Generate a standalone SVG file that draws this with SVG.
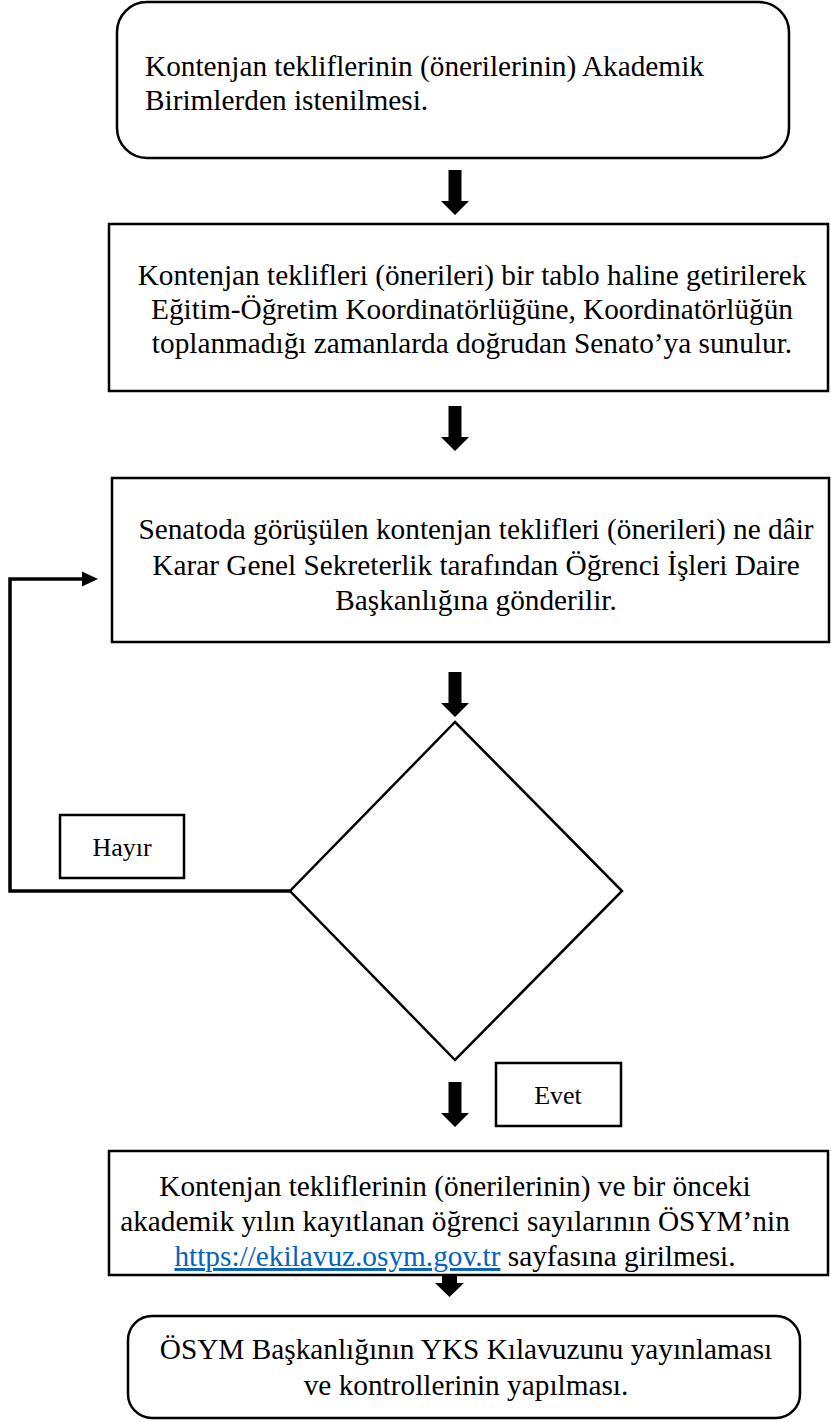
<svg xmlns="http://www.w3.org/2000/svg" xmlns:xlink="http://www.w3.org/1999/xlink" width="831" height="1422" viewBox="0 0 831 1422">
<style>
text{font-family:'Liberation Serif',serif;font-size:29.3px;fill:#000}
.c{text-anchor:middle}
.s{font-size:26px}
.b{fill:#fff;stroke:#000;stroke-width:2.5}
.ln{fill:none;stroke:#000;stroke-width:3.5}
.lk{fill:#0563C1;text-decoration:underline}
</style>
<defs>
<path id="dn" d="M-6.5,-45 h13 v31 h7.5 l-14,14 l-14,-14 h7.5 z" fill="#000"/>
</defs>
<rect width="831" height="1422" fill="#fff"/>
<g id="n1">
<rect class="b" x="117" y="2" width="672" height="156" rx="30"/>
<text x="145" y="76">Kontenjan tekliflerinin (önerilerinin) Akademik</text>
<text x="145" y="110">Birimlerden istenilmesi.</text>
</g>
<g id="n2">
<rect class="b" x="109" y="224" width="719" height="167"/>
<text class="c" x="472" y="285">Kontenjan teklifleri (önerileri) bir tablo haline getirilerek</text>
<text class="c" x="472" y="319">Eğitim-Öğretim Koordinatörlüğüne, Koordinatörlüğün</text>
<text class="c" x="472" y="353">toplanmadığı zamanlarda doğrudan Senato’ya sunulur.</text>
</g>
<g id="n3">
<rect class="b" x="112" y="478" width="717" height="164"/>
<text class="c" x="476" y="539">Senatoda görüşülen kontenjan teklifleri (önerileri) ne dâir</text>
<text class="c" x="476" y="575">Karar Genel Sekreterlik tarafından Öğrenci İşleri Daire</text>
<text class="c" x="476" y="610">Başkanlığına gönderilir.</text>
</g>
<g id="n4">
<polygon class="b" points="455,722 622,891 455,1060 290,891"/>
</g>
<g id="n5">
<rect class="b" x="60" y="815" width="124" height="63"/>
<text class="c s" x="122" y="856">Hayır</text>
</g>
<g id="n6">
<rect class="b" x="496" y="1063" width="125" height="63"/>
<text class="c s" x="558" y="1104">Evet</text>
</g>
<g id="n7">
<rect class="b" x="109" y="1151" width="719" height="124"/>
<text class="c" x="455" y="1196">Kontenjan tekliflerinin (önerilerinin) ve bir önceki</text>
<text class="c" x="455" y="1231">akademik yılın kayıtlanan öğrenci sayılarının ÖSYM’nin</text>
<text class="c" x="455" y="1266"><tspan class="lk">https://ekilavuz.osym.gov.tr</tspan> sayfasına girilmesi.</text>
</g>
<g id="n8">
<rect class="b" x="128" y="1316" width="672" height="102" rx="24"/>
<text class="c" x="466" y="1359">ÖSYM Başkanlığının YKS Kılavuzunu yayınlaması</text>
<text class="c" x="466" y="1395">ve kontrollerinin yapılması.</text>
</g>
<g id="connectors">
<use xlink:href="#dn" x="455" y="215"/>
<use xlink:href="#dn" x="455" y="451"/>
<use xlink:href="#dn" x="455" y="717"/>
<use xlink:href="#dn" x="455" y="1127"/>
<path d="M442,1276 h15 v7 h7 l-14.5,14 l-14.5,-14 h7 z" fill="#000"/>
<polyline class="ln" points="290,891 10,891 10,579 84,579"/>
<polygon points="82,571.5 98,579 82,586.5" fill="#000"/>
</g>
</svg>
